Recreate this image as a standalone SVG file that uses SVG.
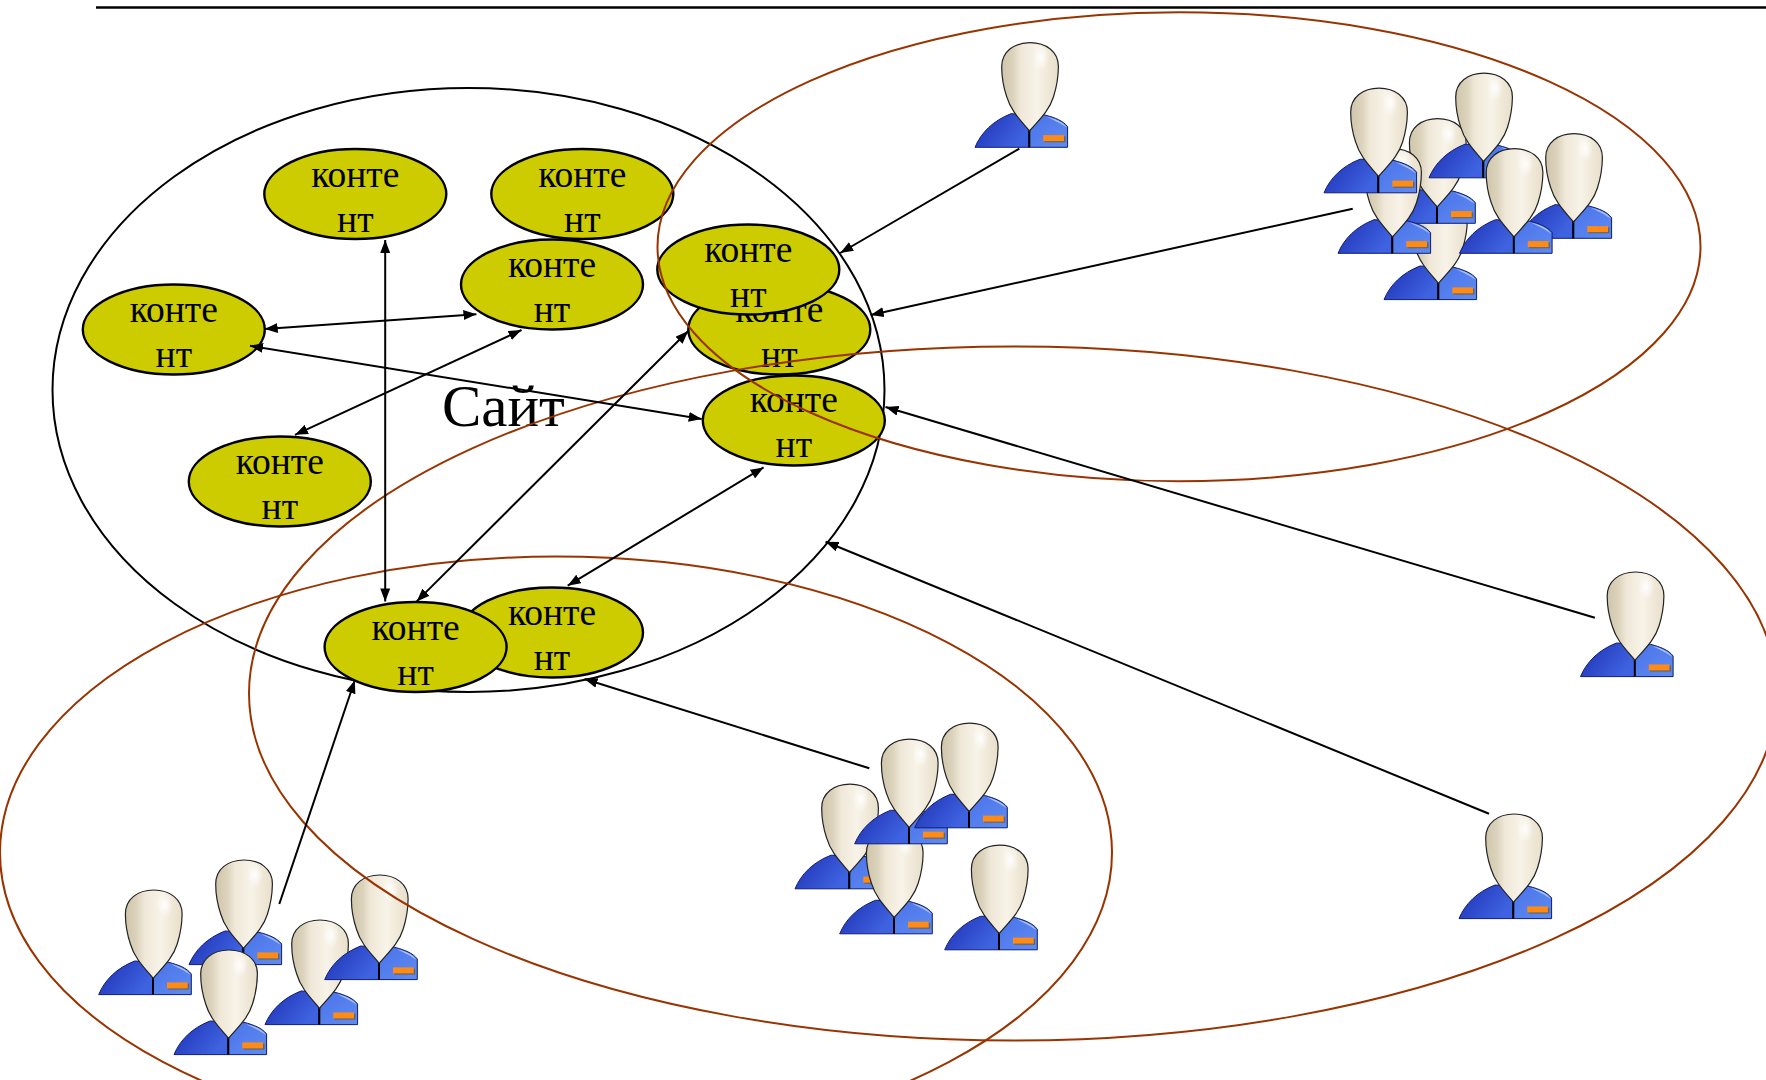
<svg xmlns="http://www.w3.org/2000/svg" width="1766" height="1080" viewBox="0 0 1766 1080">
<style>
.blk{fill:none;stroke:#000;stroke-width:2}
.zone{fill:none;stroke:#993300;stroke-width:2}
.cn{fill:#cccc00;stroke:#000;stroke-width:2.4}
.t{font-family:"Liberation Serif","Times New Roman",serif;font-size:37.5px;fill:#000;text-anchor:middle}
.site{font-family:"Liberation Serif","Times New Roman",serif;font-size:59px;fill:#000}
.c{stroke:#000;stroke-width:2;fill:none}
.one{marker-end:url(#ah)}
.two{marker-start:url(#ah);marker-end:url(#ah)}
</style>
<defs>
<marker id="ah" markerUnits="userSpaceOnUse" markerWidth="14" markerHeight="10" refX="13" refY="5" orient="auto-start-reverse"><path d="M0 0L13 5L0 10Z" fill="#000"/></marker>
<linearGradient id="hd" x1="0" x2="1" y1="0" y2="0"><stop offset="0" stop-color="#cfc5ab"/><stop offset=".2" stop-color="#dcd3bc"/><stop offset=".34" stop-color="#efe8d8"/><stop offset=".62" stop-color="#f8f3e8"/><stop offset="1" stop-color="#e8dfca"/></linearGradient>
<radialGradient id="hl"><stop offset="0" stop-color="#fff" stop-opacity=".95"/><stop offset="1" stop-color="#fff" stop-opacity="0"/></radialGradient>
<linearGradient id="bl" x1="0" x2="1" y1="0" y2=".5"><stop offset="0" stop-color="#1c2fb4"/><stop offset="1" stop-color="#3f63e0"/></linearGradient>
<linearGradient id="br" x1="0" x2="1" y1="0" y2="1"><stop offset="0" stop-color="#4a72ea"/><stop offset="1" stop-color="#5f8cf0"/></linearGradient>
<symbol id="person" overflow="visible">
<path d="M0 104.6C6 90 18 78 36 71L54 72V104.6Z" fill="url(#bl)" stroke="#101c70" stroke-width="1"/>
<path d="M54 72L70 72.3C80 75 88 78 92.6 84V104.6H54Z" fill="url(#br)" stroke="#101c70" stroke-width="1"/>
<path d="M72 74C80 76 88 79 92 85L84 80Z" fill="#a9c3f7"/>
<rect x="69.5" y="93.6" width="21" height="6" fill="#666"/>
<rect x="68.3" y="92.4" width="20.7" height="6" fill="#ff8a14"/>
<path d="M54.3 86V104.6" stroke="#000" stroke-width="2" fill="none"/>
<path d="M54.5 88.3C47 79 36 69 31.7 54C28 43 26.7 33 26.7 24C26.7 9 39 0 55 0C71 0 83.5 9 83.4 24C83.3 33 82 43 78.5 54C74 69 62 79 54.5 88.3Z" fill="url(#hd)" stroke="#222" stroke-width="1.2"/>
<ellipse cx="66" cy="15" rx="8" ry="13" fill="url(#hl)"/>
</symbol>
</defs>
<path id="top-rule" d="M96 7.5H1766" stroke="#000" stroke-width="2.4" fill="none"/>
<g id="site"><ellipse class="blk" cx="468.5" cy="390" rx="416" ry="302"/><text class="site" x="442" y="426">Сайт</text></g>
<g id="content-1"><ellipse class="cn" cx="355.3" cy="194" rx="91" ry="45"/><text class="t" x="355.3" y="187">конте</text><text class="t" x="355.3" y="232">нт</text></g>
<g id="content-2"><ellipse class="cn" cx="582.3" cy="194" rx="91" ry="45"/><text class="t" x="582.3" y="187">конте</text><text class="t" x="582.3" y="232">нт</text></g>
<g id="content-3"><ellipse class="cn" cx="552" cy="284.5" rx="91" ry="45"/><text class="t" x="552" y="277">конте</text><text class="t" x="552" y="322">нт</text></g>
<g id="content-4"><ellipse class="cn" cx="173.8" cy="329.5" rx="91" ry="45"/><text class="t" x="173.8" y="322">конте</text><text class="t" x="173.8" y="367">нт</text></g>
<g id="content-5"><ellipse class="cn" cx="279.8" cy="481.5" rx="91" ry="45"/><text class="t" x="279.8" y="474">конте</text><text class="t" x="279.8" y="519">нт</text></g>
<g id="content-6"><ellipse class="cn" cx="779.3" cy="329.5" rx="91" ry="45"/><text class="t" x="779.3" y="322">конте</text><text class="t" x="779.3" y="367">нт</text></g>
<g id="content-7"><ellipse class="cn" cx="748.3" cy="269.5" rx="91" ry="45"/><text class="t" x="748.3" y="262">конте</text><text class="t" x="748.3" y="307">нт</text></g>
<g id="content-8"><ellipse class="cn" cx="793.8" cy="420.5" rx="91" ry="45"/><text class="t" x="793.8" y="412">конте</text><text class="t" x="793.8" y="457">нт</text></g>
<g id="content-9"><ellipse class="cn" cx="552" cy="632.5" rx="91" ry="45"/><text class="t" x="552" y="625">конте</text><text class="t" x="552" y="670">нт</text></g>
<g id="content-10"><ellipse class="cn" cx="415.6" cy="647" rx="91" ry="45"/><text class="t" x="415.6" y="640">конте</text><text class="t" x="415.6" y="685">нт</text></g>
<g id="user-top"><use href="#person" transform="translate(975 42.7)"/></g>
<g id="user-tr1"><use href="#person" transform="translate(1384 195)"/></g>
<g id="user-tr2"><use href="#person" transform="translate(1382.7 118.7)"/></g>
<g id="user-tr3"><use href="#person" transform="translate(1338 148.7)"/></g>
<g id="user-tr4"><use href="#person" transform="translate(1324 88.2)"/></g>
<g id="user-tr5"><use href="#person" transform="translate(1429 73.2)"/></g>
<g id="user-tr7"><use href="#person" transform="translate(1519 133.7)"/></g>
<g id="user-tr6"><use href="#person" transform="translate(1459.5 148.7)"/></g>
<g id="user-r1"><use href="#person" transform="translate(1580.5 572)"/></g>
<g id="user-r2"><use href="#person" transform="translate(1459 814)"/></g>
<g id="user-m1"><use href="#person" transform="translate(795 784.2)"/></g>
<g id="user-m4"><use href="#person" transform="translate(839.7 829.2)"/></g>
<g id="user-m2"><use href="#person" transform="translate(854.7 739.2)"/></g>
<g id="user-m3"><use href="#person" transform="translate(914.7 723.2)"/></g>
<g id="user-m5"><use href="#person" transform="translate(944.7 845.2)"/></g>
<g id="user-b1"><use href="#person" transform="translate(98.7 890)"/></g>
<g id="user-b2"><use href="#person" transform="translate(189 860)"/></g>
<g id="user-b3"><use href="#person" transform="translate(174 950)"/></g>
<g id="user-b4"><use href="#person" transform="translate(265 920)"/></g>
<g id="user-b5"><use href="#person" transform="translate(324.7 875)"/></g>
<g id="zones">
<ellipse class="zone" cx="1179" cy="246.7" rx="521.5" ry="234.5"/>
<ellipse class="zone" cx="1013" cy="693.5" rx="764" ry="347"/>
<ellipse class="zone" cx="556" cy="852.6" rx="556" ry="296"/>
</g>
<g id="connectors">
<path class="c one" d="M1019.3 148.7L840.2 253"/>
<path class="c one" d="M1352.7 208.7L870.7 315"/>
<path class="c one" d="M1594.9 617.7L885.5 407"/>
<path class="c one" d="M1489 813.7L825.6 541.7"/>
<path class="c one" d="M869.3 768.3L584.5 679"/>
<path class="c one" d="M279.3 904L354.8 680.3"/>
<path class="c two" d="M385.2 240V601.4"/>
<path class="c two" d="M264.7 328.9L476.4 314.2"/>
<path class="c two" d="M250 345.8L701.7 419"/>
<path class="c two" d="M295 434.8L521.5 330"/>
<path class="c two" d="M416.7 601.4L688.2 331"/>
<path class="c two" d="M567.7 585.7L763.6 467.4"/>
</g>
</svg>
